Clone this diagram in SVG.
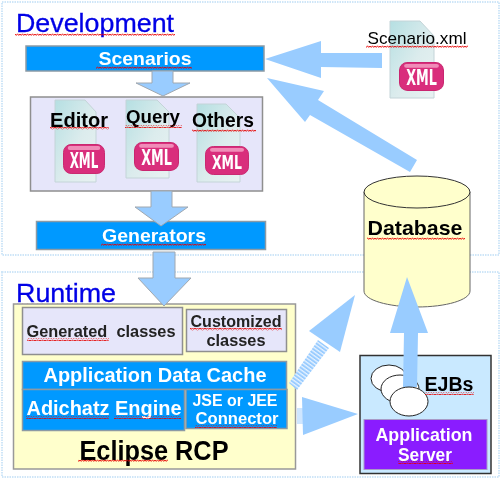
<svg xmlns="http://www.w3.org/2000/svg" width="500" height="478" viewBox="0 0 500 478">
<defs>
<style>
text{font-family:"Liberation Sans",Arial,sans-serif;text-anchor:middle}
.frame{fill:#fff;stroke:#cfe6f8;stroke-width:2;stroke-dasharray:1.5 1}
.blue{fill:#0099ff;stroke:#8c9aa5;stroke-width:1.5}
.lav{fill:#e6e6fa;stroke:#8f8f8f;stroke-width:1.5}
.arrow{fill:#99ccff}
.arrowb{fill:#99ccff;stroke:#a0a8b0;stroke-width:1}
.w{fill:#fff}
.k{fill:#000}
.b{font-weight:bold}
.h{fill:#0000e6;stroke:#0000e6;stroke-width:.3}
.doc{fill:url(#docg);stroke:#c4d4d8;stroke-width:1}
.badge{fill:#d92f7c;stroke:#c9286f;stroke-width:1}
.bt{fill:#fff;font-size:21px;font-weight:bold;font-family:"DejaVu Sans Condensed","Liberation Sans",sans-serif}
.sq{fill:url(#sq)}
.oval{fill:#fff;stroke:#222;stroke-width:1}
</style>
<linearGradient id="docg" x1="0" y1="0" x2="1" y2="1"><stop offset="0" stop-color="#b5dfe2"/><stop offset=".55" stop-color="#dceced"/><stop offset="1" stop-color="#e8f2f2"/></linearGradient>
<pattern id="sq" width="5" height="3" patternUnits="userSpaceOnUse"><path d="M0 1L1.25 2.4L2.5 .8L3.75 2.4L5 1" fill="none" stroke="#e60000" stroke-width=".9"/></pattern>
<pattern id="st" width="3.2" height="4" patternUnits="userSpaceOnUse" patternTransform="rotate(-54)"><rect width="3.2" height="4" fill="#e6f2ff"/><rect width="1.9" height="4" fill="#99ccff"/></pattern>
<filter id="soft" x="0" y="0" width="1" height="1"><feGaussianBlur stdDeviation=".35"/></filter>
<symbol id="xmlbadge" viewBox="0 0 44 30" preserveAspectRatio="none"><rect x=".5" y=".5" width="43" height="29" rx="8" class="badge"/><rect x="5" y="2" width="34" height="4" rx="2" fill="#f08cb8"/><text x="22" y="24" class="bt" textLength="30" lengthAdjust="spacingAndGlyphs">XML</text></symbol>
</defs>
<g filter="url(#soft)">
<rect width="500" height="478" fill="#fff"/>
<g id="frame-development"><rect x="2" y="2" width="497" height="253" class="frame"/></g>
<g id="frame-runtime"><rect x="2" y="272" width="497" height="205" class="frame"/></g>
<g id="label-development"><text x="95" y="32" font-size="26" class="h" textLength="158" lengthAdjust="spacingAndGlyphs">Development</text><rect x="15" y="33" width="160" height="3" class="sq"/></g>
<g id="label-runtime"><text x="66" y="302" font-size="26" class="h" textLength="100" lengthAdjust="spacingAndGlyphs">Runtime</text><rect x="15" y="303" width="102" height="3" class="sq"/></g>

<g id="scenarios"><rect x="26" y="46" width="238" height="25" class="blue"/><text x="145" y="65" font-size="19" class="w b" textLength="93" lengthAdjust="spacingAndGlyphs">Scenarios</text><rect x="96" y="66" width="96" height="3" class="sq"/></g>

<g id="artifacts"><rect x="30.500" y="97" width="232" height="94" class="lav"/></g>
<g id="editor-doc"><path d="M55 100H85L96 112V182H55Z" class="doc"/><use href="#xmlbadge" x="63" y="144" width="42" height="30"/><text x="79" y="127" font-size="20" class="k b" textLength="58" lengthAdjust="spacingAndGlyphs">Editor</text><rect x="50" y="127" width="59" height="3" class="sq"/></g>
<g id="query-doc"><path d="M126 100H157L169 112V178H126Z" class="doc"/><use href="#xmlbadge" x="134" y="142" width="45" height="29"/><text x="153" y="123" font-size="19" class="k b" textLength="54" lengthAdjust="spacingAndGlyphs">Query</text><rect x="125" y="125" width="57" height="3" class="sq"/></g>
<g id="others-doc"><path d="M197 104H226L240 118V182H197Z" class="doc"/><use href="#xmlbadge" x="205" y="146" width="44" height="29"/><text x="223" y="127" font-size="20" class="k b" textLength="62" lengthAdjust="spacingAndGlyphs">Others</text><rect x="192" y="129" width="64" height="3" class="sq"/></g>

<g id="generators"><rect x="36.500" y="221.500" width="229" height="28" class="blue"/><text x="154" y="242" font-size="19" class="w b" textLength="104" lengthAdjust="spacingAndGlyphs">Generators</text><rect x="101" y="243" width="105" height="3" class="sq"/></g>

<g id="scenario-xml"><path d="M390 21H420L434 36V98H390Z" class="doc"/><use href="#xmlbadge" x="399" y="62" width="45" height="29"/><text x="417" y="44" font-size="17" class="k" textLength="99" lengthAdjust="spacingAndGlyphs">Scenario.xml</text><rect x="366" y="45" width="102" height="3" class="sq"/></g>

<g id="database"><path d="M364 192V291C364 300 388 307 417 307S470 300 470 291V192Z" fill="#ffffcc" stroke="#666" stroke-width="1"/><ellipse cx="417" cy="192" rx="53" ry="16" fill="#ffffcc" stroke="#333" stroke-width="1"/><text x="415" y="235" font-size="21" class="k b" textLength="95" lengthAdjust="spacingAndGlyphs">Database</text><rect x="367" y="237" width="98" height="3" class="sq"/></g>

<g id="eclipse-rcp"><rect x="13.500" y="304" width="282" height="165" fill="#ffffcc" stroke="#999" stroke-width="1.500"/><text x="154" y="460" font-size="27" class="k b" textLength="149" lengthAdjust="spacingAndGlyphs">Eclipse RCP</text><rect x="78" y="459" width="90" height="3" class="sq"/></g>
<g id="generated-classes"><rect x="22.500" y="307.500" width="160" height="47" class="lav"/><text x="101" y="337" font-size="16.500" fill="#222" class="b" textLength="149" lengthAdjust="spacingAndGlyphs" xml:space="preserve">Generated  classes</text><rect x="27" y="338" width="82" height="3" class="sq"/></g>
<g id="customized-classes"><rect x="186.500" y="309.500" width="100" height="42" class="lav"/><text x="236" y="327" font-size="16.500" fill="#222" class="b" textLength="91" lengthAdjust="spacingAndGlyphs">Customized</text><rect x="190" y="328" width="92" height="3" class="sq"/><text x="236" y="346" font-size="16.500" fill="#222" class="b" textLength="59" lengthAdjust="spacingAndGlyphs">classes</text></g>
<g id="application-data-cache"><rect x="22.500" y="361.500" width="264" height="28" class="blue"/><text x="155" y="382" font-size="20" class="w b" textLength="223" lengthAdjust="spacingAndGlyphs">Application Data Cache</text></g>
<g id="adichatz-engine"><rect x="22.500" y="389.500" width="162" height="41" class="blue"/><text x="104" y="415" font-size="20" class="w b" textLength="155" lengthAdjust="spacingAndGlyphs">Adichatz Engine</text><rect x="26" y="416" width="83" height="3" class="sq"/><rect x="114" y="416" width="67" height="3" class="sq"/></g>
<g id="connector-box"><rect x="186" y="389.500" width="101" height="39" class="blue"/><text x="235" y="406" font-size="16.500" class="w b" textLength="85" lengthAdjust="spacingAndGlyphs">JSE or JEE</text><text x="237" y="424" font-size="16.500" class="w b" textLength="83" lengthAdjust="spacingAndGlyphs">Connector</text><rect x="195" y="425" width="82" height="3" class="sq"/></g>

<g id="application-server"><rect x="360" y="355.500" width="131" height="118" fill="#c9e9ff" stroke="#333" stroke-width="1.500"/><rect x="364" y="419.500" width="123" height="50" fill="#8a1aff" stroke="#a89ac8" stroke-width="1"/><text x="424" y="441" font-size="19" class="w b" textLength="97" lengthAdjust="spacingAndGlyphs">Application</text><text x="425" y="461" font-size="19" class="w b" textLength="54" lengthAdjust="spacingAndGlyphs">Server</text><rect x="398" y="461" width="55" height="3" class="sq"/></g>
<g id="ejbs"><ellipse cx="389" cy="378.500" rx="18" ry="13.500" class="oval"/><ellipse cx="400" cy="389" rx="19" ry="14" class="oval"/></g>

<g id="connectors">
<path class="arrowb" d="M152 71H173V83H190L163 96L136 83H152Z"/>
<path class="arrowb" d="M151 191H172V207H188L161 226L135 207H151Z"/>
<path class="arrowb" d="M153 252H175V278H191L164 306L138 278H153Z"/>
<path class="arrow" d="M382 53V68L321 67V78L265 59L321 41V53Z"/>
<path class="arrow" d="M417 160L410 172L310 115L305 122L267 78L324 91L318 100Z"/>
<path class="arrow" d="M417 387H403L404 333H390L407 277L428 333H418Z"/>
<path fill="url(#st)" d="M289 383L297 390L329 348L318 340Z"/>
<path class="arrow" d="M355 295L340 352L309 331Z"/>
<rect x="297" y="408" width="6" height="16" fill="#cfe6ff"/>
<path class="arrow" d="M358 414L303 435L302 397Z"/>
</g>
<g id="ejb-front"><ellipse cx="409" cy="401.500" rx="19" ry="14.500" class="oval"/><text x="449" y="391" font-size="20" class="k b" textLength="49" lengthAdjust="spacingAndGlyphs">EJBs</text><rect x="425" y="392" width="49" height="3" class="sq"/></g>
</g>
</svg>
